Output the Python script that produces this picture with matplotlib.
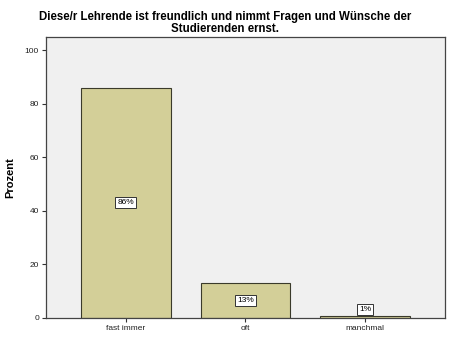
import matplotlib.pyplot as plt

plt.rcParams['font.family'] = ['Liberation Sans', 'DejaVu Sans']

# data
categories = ['fast immer', 'oft', 'manchmal']
values = [86.1, 12.9, 0.8]
labels = ['86%', '13%', '1%']

fig = plt.figure(figsize=(4.5, 3.6), dpi=100)
ax = fig.add_axes([0.102, 0.117, 0.887, 0.78])
ax.set_facecolor('#f0f0f0')

x = range(len(categories))
ax.bar(x, values, width=0.75, color='#d3cf98', edgecolor='#3a3a2a', linewidth=0.8, zorder=2)

for xi, v, lab in zip(x, values, labels):
    ypos = max(v / 2, 3.2)
    ax.text(xi, ypos, lab, ha='center', va='center', fontsize=6, zorder=3,
            bbox=dict(boxstyle='square,pad=0.25', fc='white', ec='#333333', lw=0.7))

ax.set_xlim(-0.667, 2.667)
ax.set_ylim(0, 105)
ax.set_yticks([0, 20, 40, 60, 80, 100])
ax.set_xticks(list(x))
ax.set_xticklabels(categories)
ax.tick_params(axis='both', labelsize=6, length=3, width=0.8, color='#333333', labelcolor='#222222', pad=2)
ax.set_ylabel('Prozent', fontsize=8, fontweight='bold')
ax.yaxis.set_label_coords(-0.078, 0.5)

for s in ax.spines.values():
    s.set_color('#444444')
    s.set_linewidth(0.9)

fig.suptitle('Diese/r Lehrende ist freundlich und nimmt Fragen und Wünsche der\nStudierenden ernst.',
             fontsize=8.3, fontweight='bold', x=0.5, y=0.97, linespacing=1.0)

fig.savefig('out.png', dpi=100, facecolor='white')
